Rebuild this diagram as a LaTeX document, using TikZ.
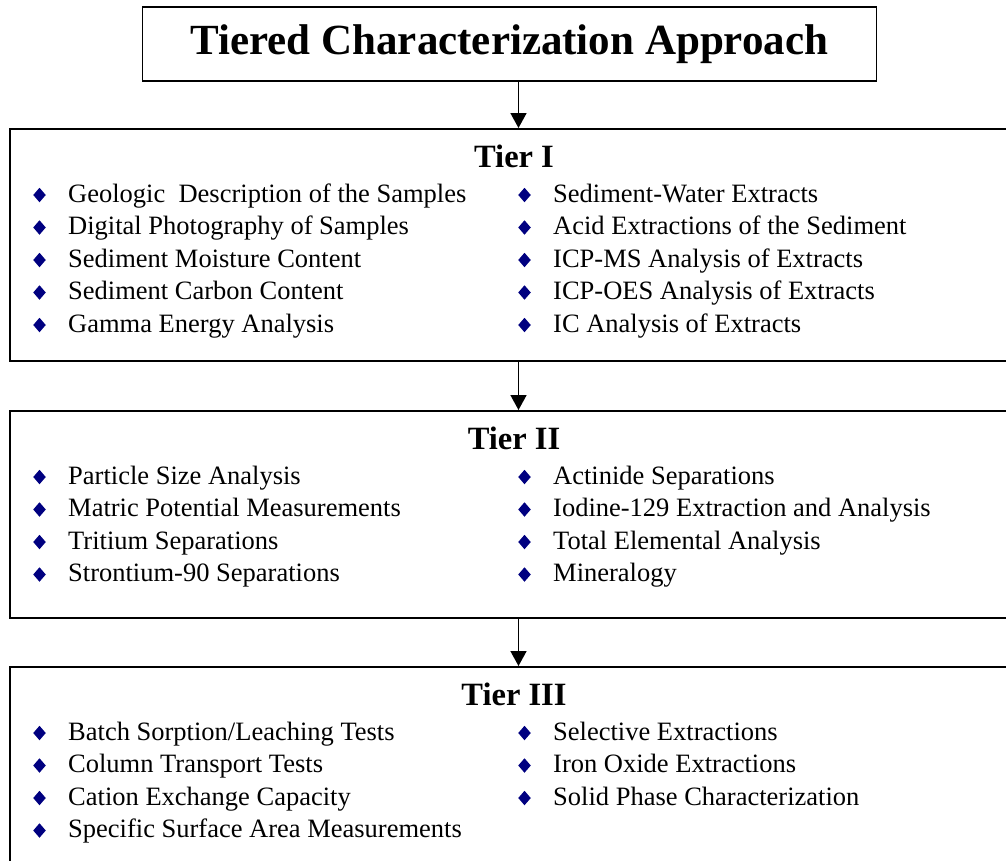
\documentclass[tikz,border=0pt]{standalone}
\usepackage{fontspec}
\setmainfont{Liberation Serif}
\usetikzlibrary{shapes.geometric}
\usetikzlibrary{arrows.meta}
\definecolor{bulletblue}{RGB}{0,0,128}
\newcommand{\tieritem}[4]{\node[bullet] (#1d) at (#2-28.5 , #3-7) {}; \node[item] (#1) at ( #2 , #3 ) {#4};}
\newcommand{\tierhead}[3]{\node[head] (#1) at ( 514 , #2 ) {#3};}
\tikzset{
  bullet/.style={shape=diamond, fill=bulletblue, draw=none, inner sep=0pt, outer sep=0pt, minimum width=12.5pt, minimum height=14.5pt},
  item/.style={anchor=base west, inner sep=0pt, font=\fontsize{26.5}{30}\selectfont},
  head/.style={anchor=base, inner sep=0pt, font=\fontsize{32.5}{36}\selectfont\bfseries},
  tierbox/.style={draw, line width=1.8pt, anchor=north west, inner sep=0pt},
  flow/.style={-{Triangle[width=16pt,length=15pt]}, line width=1.6pt}
}
\begin{document}
\begin{tikzpicture}[x=1pt,y=-1pt]
        \useasboundingbox (0,0) rectangle (1006,860);
        % title
        \node[draw, line width=1.8pt, minimum width=734pt, minimum height=74pt, font=\fontsize{43}{48}\selectfont\bfseries] (title) at (509.4,44) {Tiered Characterization Approach};
        % boxes
        \node[tierbox, minimum width=1003pt, minimum height=232pt] (tierI) at (9,128) {};
        \node[tierbox, minimum width=1003pt, minimum height=207pt] (tierII) at (9,410) {};
        \node[tierbox, minimum width=1003pt, minimum height=215pt] (tierIII) at (9,666) {};
        % arrows
        \coordinate (axis) at (518.5,0);
        \draw[flow] (title.south -| axis) -- (tierI.north -| axis);
        \draw[flow] (tierI.south -| axis) -- (tierII.north -| axis);
        \draw[flow] (tierII.south -| axis) -- (tierIII.north -| axis);
        % tier I
        \tierhead{headI}{167.7}{Tier I}
        \tieritem{geo}{68}{202}{Geologic\ \ Description of the Samples}
        \tieritem{photo}{68}{234.5}{Digital Photography of Samples}
        \tieritem{moist}{68}{267}{Sediment Moisture Content}
        \tieritem{carbon}{68}{299.5}{Sediment Carbon Content}
        \tieritem{gamma}{68}{332}{Gamma Energy Analysis}
        \tieritem{water}{553}{202}{Sediment-Water Extracts}
        \tieritem{acid}{553}{234.5}{Acid Extractions of the Sediment}
        \tieritem{icpms}{553}{267}{ICP-MS Analysis of Extracts}
        \tieritem{icpoes}{553}{299.5}{ICP-OES Analysis of Extracts}
        \tieritem{ic}{553}{332}{IC Analysis of Extracts}
        % tier II
        \tierhead{headII}{449.5}{Tier II}
        \tieritem{psize}{68}{484}{Particle Size Analysis}
        \tieritem{matric}{68}{516.5}{Matric Potential Measurements}
        \tieritem{tritium}{68}{549}{Tritium Separations}
        \tieritem{sr}{68}{581.5}{Strontium-90 Separations}
        \tieritem{actinide}{553}{484}{Actinide Separations}
        \tieritem{iodine}{553}{516.5}{Iodine-129 Extraction and Analysis}
        \tieritem{total}{553}{549}{Total Elemental Analysis}
        \tieritem{mineral}{553}{581.5}{Mineralogy}
        % tier III
        \tierhead{headIII}{705}{Tier III}
        \tieritem{batch}{68}{740}{Batch Sorption/Leaching Tests}
        \tieritem{column}{68}{772.5}{Column Transport Tests}
        \tieritem{cation}{68}{805}{Cation Exchange Capacity}
        \tieritem{surface}{68}{837.5}{Specific Surface Area Measurements}
        \tieritem{select}{553}{740}{Selective Extractions}
        \tieritem{iron}{553}{772.5}{Iron Oxide Extractions}
        \tieritem{solid}{553}{805}{Solid Phase Characterization}
\end{tikzpicture}
\end{document}
